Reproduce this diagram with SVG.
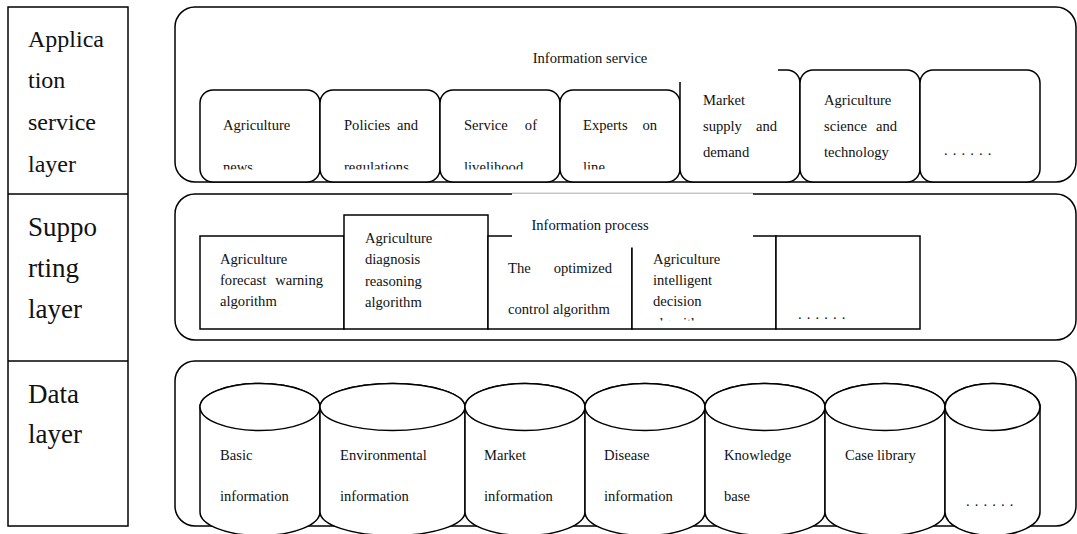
<svg xmlns="http://www.w3.org/2000/svg" width="1077" height="534" viewBox="0 0 1077 534">
<style>
.ln{fill:none;stroke:#000;stroke-width:1.5}
.bx{fill:#fff;stroke:#000;stroke-width:1.5}
.t{font-family:"Liberation Serif","Times New Roman",serif;font-size:14.6px;fill:#111}
.e{text-anchor:end}
.m{text-anchor:middle}
.big{font-family:"Liberation Serif","Times New Roman",serif;fill:#111}
.dots{letter-spacing:5.1px}
</style>
<defs>
<clipPath id="cTop"><rect x="0" y="0" width="1077" height="169.5"/></clipPath>
<clipPath id="cMid"><rect x="0" y="0" width="1077" height="320.5"/></clipPath>
</defs>

<g id="layers">
<rect class="ln" x="8" y="7" width="120" height="519"/>
<line class="ln" x1="8" y1="194" x2="128" y2="194"/>
<line class="ln" x1="8" y1="361" x2="128" y2="361"/>
<g class="big" font-size="24px">
<text x="28" y="47">Applica</text>
<text x="28" y="88">tion</text>
<text x="28" y="130">service</text>
<text x="28" y="172">layer</text>
</g>
<g class="big" font-size="27px">
<text x="28" y="236">Suppo</text>
<text x="28" y="277">rting</text>
<text x="28" y="318">layer</text>
<text x="28" y="403">Data</text>
<text x="28" y="443">layer</text>
</g>
</g>

<g id="application-layer">
<rect class="bx" x="175" y="7" width="901" height="175" rx="20"/>
<rect id="n-news" class="bx" x="200" y="90" width="120" height="92" rx="13"/>
<rect id="n-policies" class="bx" x="320" y="90" width="120" height="92" rx="13"/>
<rect id="n-livelihood" class="bx" x="440" y="90" width="120" height="92" rx="13"/>
<rect id="n-experts" class="bx" x="560" y="90" width="120" height="92" rx="13"/>
<rect id="n-market" class="bx" x="680" y="70" width="120" height="112" rx="13"/>
<rect id="n-science" class="bx" x="800" y="70" width="120" height="112" rx="13"/>
<rect id="n-more1" class="bx" x="920" y="70" width="120" height="112" rx="13"/>
<rect x="500" y="40" width="278" height="42" fill="#fff"/>
<text class="t m" x="590" y="63">Information service</text>
<text class="t" x="223" y="130">Agriculture</text>
<text class="t" x="344" y="130">Policies</text><text class="t e" x="418" y="130">and</text>
<text class="t" x="464" y="130">Service</text><text class="t e" x="537" y="130">of</text>
<text class="t" x="583" y="130">Experts</text><text class="t e" x="657" y="130">on</text>
<g clip-path="url(#cTop)">
<text class="t" x="223" y="172">news</text>
<text class="t" x="344" y="172">regulations</text>
<text class="t" x="464" y="172">livelihood</text>
<text class="t" x="583" y="172">line</text>
</g>
<text class="t" x="703" y="105">Market</text>
<text class="t" x="703" y="131">supply</text><text class="t e" x="777" y="131">and</text>
<text class="t" x="703" y="157">demand</text>
<text class="t" x="824" y="105">Agriculture</text>
<text class="t" x="824" y="131">science</text><text class="t e" x="897" y="131">and</text>
<text class="t" x="824" y="157">technology</text>
<text class="t dots" x="944" y="155">......</text>
</g>

<g id="supporting-layer">
<rect class="ln" x="175" y="194" width="901" height="146" rx="20"/>
<rect id="n-forecast" class="bx" x="200" y="236" width="144" height="93"/>
<rect id="n-diagnosis" class="bx" x="344" y="215" width="144" height="114"/>
<rect id="n-control" class="bx" x="488" y="236" width="144" height="93"/>
<rect id="n-decision" class="bx" x="632" y="236" width="144" height="93"/>
<rect id="n-more2" class="bx" x="776" y="236" width="144" height="93"/>
<rect x="512" y="192.3" width="241" height="55.2" fill="#fff"/>
<line x1="512" y1="193.2" x2="753" y2="193.2" stroke="#aaa" stroke-width="1"/>
<text class="t m" x="590" y="230">Information process</text>
<text class="t" x="220" y="264">Agriculture</text>
<text class="t" x="220" y="285">forecast</text><text class="t e" x="323" y="285">warning</text>
<text class="t" x="220" y="306">algorithm</text>
<text class="t" x="365" y="243">Agriculture</text>
<text class="t" x="365" y="264">diagnosis</text>
<text class="t" x="365" y="286">reasoning</text>
<text class="t" x="365" y="307">algorithm</text>
<text class="t" x="508" y="273">The</text><text class="t e" x="612" y="273">optimized</text>
<text class="t" x="508" y="314">control algorithm</text>
<text class="t" x="653" y="264">Agriculture</text>
<text class="t" x="653" y="285">intelligent</text>
<text class="t" x="653" y="306">decision</text>
<text class="t" x="653" y="328" clip-path="url(#cMid)">algorithm</text>
<text class="t dots" x="798" y="319">......</text>
</g>

<g id="data-layer">
<rect class="ln" x="175" y="361" width="901" height="165" rx="20"/>
<g id="n-basic"><path class="bx" d="M200,407 L200,512 A60,23.5 0 0 0 320,512 L320,407 A60,23.5 0 0 0 200,407 Z"/><ellipse class="bx" cx="260" cy="407" rx="60" ry="23.5"/></g>
<g id="n-env"><path class="bx" d="M320,407 L320,512 A72.5,23.5 0 0 0 465,512 L465,407 A72.5,23.5 0 0 0 320,407 Z"/><ellipse class="bx" cx="392.5" cy="407" rx="72.5" ry="23.5"/></g>
<g id="n-marketdb"><path class="bx" d="M465,407 L465,512 A60,23.5 0 0 0 585,512 L585,407 A60,23.5 0 0 0 465,407 Z"/><ellipse class="bx" cx="525" cy="407" rx="60" ry="23.5"/></g>
<g id="n-disease"><path class="bx" d="M585,407 L585,512 A60,23.5 0 0 0 705,512 L705,407 A60,23.5 0 0 0 585,407 Z"/><ellipse class="bx" cx="645" cy="407" rx="60" ry="23.5"/></g>
<g id="n-knowledge"><path class="bx" d="M705,407 L705,512 A60,23.5 0 0 0 825,512 L825,407 A60,23.5 0 0 0 705,407 Z"/><ellipse class="bx" cx="765" cy="407" rx="60" ry="23.5"/></g>
<g id="n-case"><path class="bx" d="M825,407 L825,512 A60,23.5 0 0 0 945,512 L945,407 A60,23.5 0 0 0 825,407 Z"/><ellipse class="bx" cx="885" cy="407" rx="60" ry="23.5"/></g>
<g id="n-more3"><path class="bx" d="M945,407 L945,512 A47.5,23.5 0 0 0 1040,512 L1040,407 A47.5,23.5 0 0 0 945,407 Z"/><ellipse class="bx" cx="992.5" cy="407" rx="47.5" ry="23.5"/></g>
<text class="t" x="220" y="460">Basic</text>
<text class="t" x="220" y="501">information</text>
<text class="t" x="340" y="460">Environmental</text>
<text class="t" x="340" y="501">information</text>
<text class="t" x="484" y="460">Market</text>
<text class="t" x="484" y="501">information</text>
<text class="t" x="604" y="460">Disease</text>
<text class="t" x="604" y="501">information</text>
<text class="t" x="724" y="460">Knowledge</text>
<text class="t" x="724" y="501">base</text>
<text class="t" x="845" y="460">Case library</text>
<text class="t dots" x="966" y="506">......</text>
</g>

<g id="connectors"></g>
</svg>
